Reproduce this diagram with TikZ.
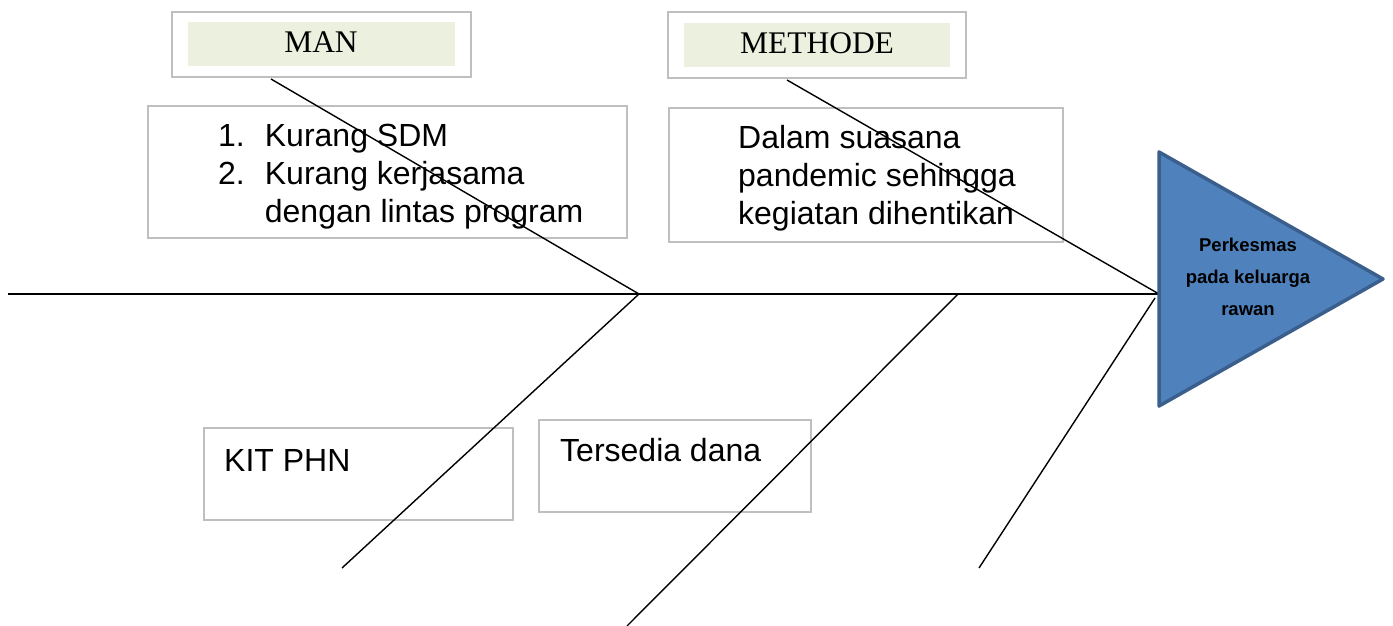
\documentclass[tikz,border=0pt]{standalone}
\usepackage{fontspec}
\setmainfont{Liberation Sans}
\newfontfamily\serifface{Liberation Serif}
\definecolor{boxgray}{HTML}{BFBFBF}
\definecolor{headfill}{HTML}{4F81BD}
\definecolor{headline}{HTML}{3A5F8C}
\definecolor{labelgreen}{HTML}{EBF1DE}
\begin{document}
\begin{tikzpicture}[x=1pt,y=-1pt,
  frame/.style={draw=boxgray,line width=1.5pt,fill=white},
  labelbar/.style={fill=labelgreen,draw=none},
  bone/.style={draw=black,line width=1.4pt},
  bodytext/.style={inner sep=0pt,font=\fontsize{32}{38}\selectfont},
  titletext/.style={inner sep=0pt,font=\serifface\fontsize{31.5}{36}\selectfont}]
\useasboundingbox (0,0) rectangle (1393,626);

% category header boxes
\draw[frame] (172,12) rectangle (471,77);
\fill[labelbar] (188,22) rectangle (455,66);
\node[titletext,anchor=base] (man) at (321,53) {MAN};
\draw[frame] (668,12) rectangle (966,78);
\fill[labelbar] (684,23) rectangle (950,67);
\node[titletext,anchor=base] (methode) at (817,54) {METHODE};

% cause boxes
\draw[frame] (148,106) rectangle (627,238);
\draw[frame] (669,108) rectangle (1063,242);
\draw[frame] (204,428) rectangle (513,520);
\draw[frame] (539,420) rectangle (811,512);

% cause texts
\node[bodytext,anchor=north west] (mantext) at (218,120)
  {\begin{tabular}{@{}l@{\hspace{20pt}}l@{}}1. & Kurang SDM\\ 2. & Kurang kerjasama\\ & dengan lintas program\end{tabular}};
\node[bodytext,anchor=north west] (methodetext) at (738,122)
  {\begin{tabular}{@{}l@{}}Dalam suasana\\ pandemic sehingga\\ kegiatan dihentikan\end{tabular}};
\node[bodytext,anchor=base west] (kit) at (224,471) {KIT PHN};
\node[bodytext,anchor=base west] (dana) at (560,461) {Tersedia dana};

% skeleton coordinates
\coordinate (tail) at (8,294);
\coordinate (head) at (1159,294);
\coordinate (j1) at (639,294);
\coordinate (j2) at (958,294);
\coordinate (j3) at (1155,298);
\coordinate (mantop) at (271,79);
\coordinate (methtop) at (787,80);
\coordinate (low1) at (342,568);
\coordinate (low2) at (627,626);
\coordinate (low3) at (979,568);

% spine and bones
\draw[bone] (tail) -- (head);
\draw[bone] (mantop) -- (j1);
\draw[bone] (methtop) -- (head);
\draw[bone] (j1) -- (low1);
\draw[bone] (j2) -- (low2);
\draw[bone] (j3) -- (low3);

% effect head
\coordinate (htop) at (1159,152);
\coordinate (hbot) at (1159,406);
\coordinate (htip) at (1383,279);
\draw[fill=headfill,draw=headline,line width=3.5pt,line join=round] (htop) -- (htip) -- (hbot) -- cycle;
\node[inner sep=0pt,anchor=north,font=\bfseries\fontsize{18.5}{32}\selectfont] (effect) at (1248,228.6)
  {\begin{tabular}{@{}c@{}}Perkesmas\\ pada keluarga\\ rawan\end{tabular}};
\end{tikzpicture}
\end{document}
